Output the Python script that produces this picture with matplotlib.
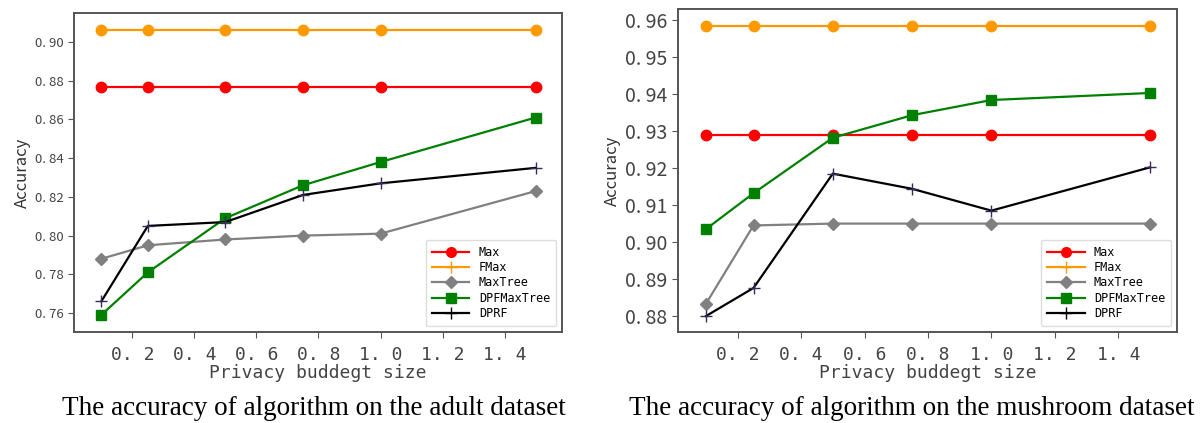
import matplotlib.pyplot as plt
from matplotlib.lines import Line2D

budget = [0.1, 0.25, 0.5, 0.75, 1.0, 1.5]

adult_max = [0.877, 0.877, 0.877, 0.877, 0.877, 0.877]
adult_fmax = [0.906, 0.906, 0.906, 0.906, 0.906, 0.906]
adult_maxtree = [0.788, 0.795, 0.798, 0.800, 0.801, 0.823]
adult_dpfmaxtree = [0.759, 0.781, 0.809, 0.826, 0.838, 0.861]
adult_dprf = [0.766, 0.805, 0.807, 0.821, 0.827, 0.835]

mush_max = [0.929, 0.929, 0.929, 0.929, 0.929, 0.929]
mush_fmax = [0.9585, 0.9585, 0.9585, 0.9585, 0.9585, 0.9585]
mush_maxtree = [0.8833, 0.9045, 0.905, 0.905, 0.905, 0.905]
mush_dpfmaxtree = [0.9035, 0.9132, 0.9282, 0.9343, 0.9384, 0.9403]
mush_dprf = [0.8800, 0.8876, 0.9185, 0.9144, 0.9085, 0.9202]

adult_yticks = [0.76, 0.78, 0.80, 0.82, 0.84, 0.86, 0.88, 0.90]
mush_yticks = [0.88, 0.89, 0.90, 0.91, 0.92, 0.93, 0.94, 0.95, 0.96]
xticks = [0.2, 0.4, 0.6, 0.8, 1.0, 1.2, 1.4]

CJK = ["Noto Sans CJK SC", "DejaVu Sans"]
MONO = ["DejaVu Sans Mono"]
FRAME = "#555555"

fig = plt.figure(figsize=(12.03, 4.23), dpi=100)


def draw_panel(ax, series, yticks, ylim, ytick_size, caption, cap_x):
    mx, fmax, mtree, dpf, dprf = series
    ax.plot(budget, mx, color="red", marker="o", markersize=7.5, lw=1.6)
    ax.plot(budget, fmax, color="#ff9900", marker="o", markersize=7.5, lw=1.6)
    ax.plot(budget, mtree, color="gray", marker="D", markersize=6.5, lw=1.6)
    ax.plot(budget, dpf, color="green", marker="s", markersize=7.5, lw=1.6)
    ax.plot(budget, dprf, color="black", marker="+", markersize=8,
            markeredgecolor="#3a2a5a", lw=1.6)

    ax.set_xlim(0.012, 1.585)
    ax.set_ylim(*ylim)
    ax.set_xticks(xticks)
    ax.set_xticklabels([f"{t:.1f}".replace(".", ". ") for t in xticks],
                       family=MONO, fontsize=13, color="#444444")
    ax.set_yticks(yticks)
    ax.set_yticklabels([f"{t:.2f}".replace(".", ". ") for t in yticks],
                       family=CJK, fontsize=ytick_size, color="#444444")
    ax.tick_params(color=FRAME, length=4)
    ax.tick_params(axis="x", pad=6)
    for sp in ax.spines.values():
        sp.set_color(FRAME)
        sp.set_linewidth(1.4)
    ax.set_xlabel("Privacy buddegt size", family=MONO, fontsize=13,
                  color="#444444", labelpad=0)
    ax.set_ylabel("Accuracy", family=CJK, fontsize=12, color="#333333",
                  labelpad=3)

    handles = [
        Line2D([], [], color="red", marker="o", markersize=7, lw=1.6),
        Line2D([], [], color="#ff9900", marker="+", markersize=8, lw=1.6),
        Line2D([], [], color="gray", marker="D", markersize=6, lw=1.6),
        Line2D([], [], color="green", marker="s", markersize=7, lw=1.6),
        Line2D([], [], color="black", marker="+", markersize=8, lw=1.6),
    ]
    labels = ["Max", "FMax", "MaxTree", "DPFMaxTree", "DPRF"]
    ax.legend(handles, labels, loc="lower right", prop={"family": MONO, "size": 8.5},
              handlelength=3.2, labelspacing=0.2, borderpad=0.5,
              framealpha=1, edgecolor="#dddddd")

    fig.text(cap_x, 1 - 408 / 423, caption, ha="center", va="center",
             family="Liberation Serif", fontsize=19.5, color="black")


ax1 = fig.add_axes([74 / 1203, 1 - 332 / 423, 488 / 1203, 319 / 423])
draw_panel(ax1, (adult_max, adult_fmax, adult_maxtree, adult_dpfmaxtree, adult_dprf),
           adult_yticks, (0.7502, 0.915), 9.5,
           "The accuracy of algorithm on the adult dataset", 314 / 1203)

ax2 = fig.add_axes([678 / 1203, 1 - 332 / 423, 499 / 1203, 323 / 423])
draw_panel(ax2, (mush_max, mush_fmax, mush_maxtree, mush_dpfmaxtree, mush_dprf),
           mush_yticks, (0.8757, 0.963), 14,
           "The accuracy of algorithm on the mushroom dataset", 912 / 1203)

fig.savefig("out.png", dpi=100)
